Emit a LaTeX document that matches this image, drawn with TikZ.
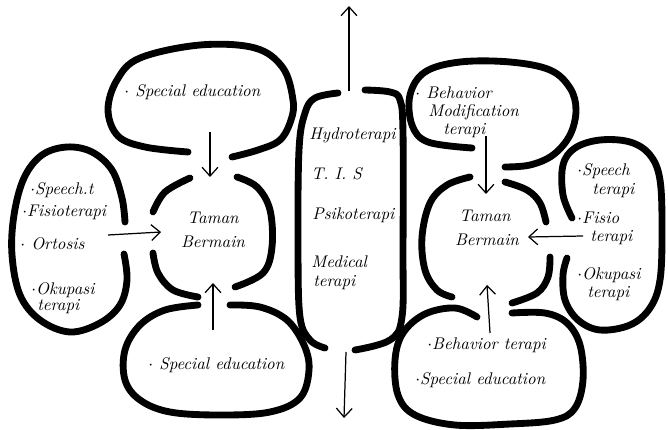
\documentclass[tikz,border=0pt]{standalone}
\usetikzlibrary{arrows.meta}
\begin{document}
\begin{tikzpicture}[x=0.02cm,y=-0.02cm,
  blob/.style={line width=3.9pt,line cap=round,line join=round},
  ar/.style={line width=0.7pt,-{Straight Barb[length=5pt,width=9pt]}},
  lbl/.style={anchor=west,inner sep=0pt,font=\fontsize{9.6}{11}\selectfont\itshape},
  ctr/.style={inner sep=0pt,font=\fontsize{9.6}{11}\selectfont\itshape}]
\useasboundingbox (0,0) rectangle (668,429);

% ---- left top bubble
\draw[blob] plot[smooth,tension=0.6] coordinates {(188,152) (145,147) (118,136) (108,110) (117,80) (140,58) (200,45) (255,48) (283,68) (293,100) (291,120) (280,140) (258,150) (232,157)};
% ---- left side bubble
\draw[blob] plot[smooth,tension=0.6] coordinates {(125,222) (122,198) (112,170) (92,152) (67,147) (42,155) (24,178) (14,215) (12,255) (20,295) (40,320) (70,332) (100,323) (120,305) (127,280) (124,254)};
% ---- left centre ring
\draw[blob] plot[smooth,tension=0.6] coordinates {(153,212) (165,192) (190,178)};
\draw[blob] plot[smooth,tension=0.6] coordinates {(237,177) (257,187) (270,210) (272,247) (263,273) (235,287)};
\draw[blob] plot[smooth,tension=0.6] coordinates {(153,253) (158,273) (173,290) (198,297)};
% ---- left bottom bubble
\draw[blob] plot[smooth,tension=0.6] coordinates {(198,305) (165,310) (140,325) (125,350) (125,380) (140,400) (170,412) (220,415) (270,412) (300,398) (309,370) (304,345) (287,320) (260,307) (230,305)};

% ---- middle column
\draw[blob] plot[smooth,tension=0.6] coordinates {(338,93) (315,98) (305,113) (299,150) (298,250) (300,317) (310,340) (325,348)};
\draw[blob] plot[smooth,tension=0.6] coordinates {(365,90) (390,92) (400,100) (403,133) (403,250) (402,317) (390,340) (355,350)};

% ---- right top bubble
\draw[blob] plot[smooth,tension=0.6] coordinates {(505,167) (530,165) (553,155) (570,135) (576,110) (570,88) (550,70) (510,62) (460,62) (425,72) (410,95) (412,125) (428,142) (472,148)};
% ---- right centre ring
\draw[blob] plot[smooth,tension=0.6] coordinates {(470,177) (447,185) (430,203) (422,237) (425,270) (437,290) (452,297)};
\draw[blob] plot[smooth,tension=0.6] coordinates {(505,182) (527,190) (540,203) (546,222)};
\draw[blob] plot[smooth,tension=0.6] coordinates {(550,257) (548,277) (537,293) (512,303)};
% ---- right side bubble
\draw[blob] plot[smooth,tension=0.6] coordinates {(572,218) (563,195) (563,165) (575,148) (600,140) (630,142) (650,155) (660,180) (662,230) (660,280) (650,308) (630,325) (600,330) (578,320) (565,300) (563,275) (567,258)};
% ---- right bottom bubble
\draw[blob] plot[smooth,tension=0.6] coordinates {(477,317) (455,308) (425,314) (403,333) (395,360) (398,395) (415,415) (455,425) (510,424) (555,420) (575,408) (583,380) (580,345) (567,323) (545,313) (512,313)};

% ---- texts
\node[lbl] (lt) at (124,92) {$\cdot$ Special education};

\node[lbl] (l1) at (30,190) {$\cdot$Speech.t};
\node[lbl] (l2) at (22,212) {$\cdot$Fisioterapi};
\node[lbl] (l3) at (20,244) {$\cdot$ Ortosis};
\node[lbl] (l4) at (31,290) {$\cdot$Okupasi};
\node[lbl] (l5) at (37,307) {terapi};

\node[ctr] (lc1) at (213,218) {Taman};
\node[ctr] (lc2) at (213,242) {Bermain};

\node[lbl] (lb) at (148,365) {$\cdot$ Special education};

\node[lbl] (m1) at (309,135) {Hydroterapi};
\node[lbl] (m2) at (311,174) {T. I. S};
\node[lbl] (m3) at (312,215) {Psikoterapi};
\node[lbl] (m4) at (311,262) {Medical};
\node[lbl] (m5) at (313,283) {terapi};

\node[lbl] (rt1) at (415,93) {$\cdot$ Behavior};
\node[lbl] (rt2) at (428,112) {Modification};
\node[lbl] (rt3) at (443,131) {terapi};

\node[ctr] (rc1) at (485,216) {Taman};
\node[ctr] (rc2) at (487,240) {Bermain};

\node[lbl] (r1) at (577,171) {$\cdot$Speech};
\node[lbl] (r2) at (592,191) {terapi};
\node[lbl] (r3) at (577,218) {$\cdot$Fisio};
\node[lbl] (r4) at (590,238) {terapi};
\node[lbl] (r5) at (577,275) {$\cdot$Okupasi};
\node[lbl] (r6) at (587,294) {terapi};

\node[lbl] (rb1) at (427,345) {$\cdot$Behavior terapi};
\node[lbl] (rb2) at (415,380) {$\cdot$Special education};

% ---- arrow ends
\coordinate (ltA) at (210,132);  \coordinate (lcT) at (210,177);
\coordinate (lbA) at (213,330);  \coordinate (lcB) at (213,283);
\coordinate (llA) at (108,235);  \coordinate (lcL) at (161,232);
\coordinate (mTop) at (349,91);  \coordinate (upEnd) at (349,6);
\coordinate (mBot) at (346,352); \coordinate (downEnd) at (344,418);
\coordinate (rtA) at (486,136);  \coordinate (rcT) at (486,194);
\coordinate (rbA) at (490,333);  \coordinate (rcB) at (487,285);
\coordinate (rrA) at (583,236);  \coordinate (rcR) at (528,237);

\draw[ar] (ltA) -- (lcT);
\draw[ar] (lbA) -- (lcB);
\draw[ar] (llA) -- (lcL);
\draw[ar] (mTop) -- (upEnd);
\draw[ar] (mBot) -- (downEnd);
\draw[ar] (rtA) -- (rcT);
\draw[ar] (rbA) -- (rcB);
\draw[ar] (rrA) -- (rcR);
\end{tikzpicture}
\end{document}
